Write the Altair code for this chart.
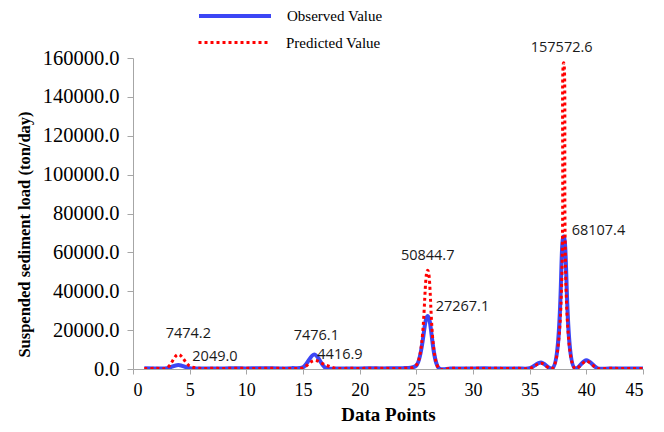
import altair as alt
import pandas as pd

x_points = list(range(1, 46))

observed = [
    350, 300, 400, 2049.0, 350, 300, 250, 300, 350, 300,
    400, 350, 300, 450, 900, 7476.1, 500, 300, 250, 300,
    350, 300, 400, 500, 1800, 27267.1, 400, 300, 250, 300,
    350, 300, 250, 300, 400, 3300, 350, 68107.4, 300, 4500,
    350, 300, 250, 300, 300,
]

predicted = [
    300, 350, 600, 7474.2, 1500, 300, 350, 300, 400, 350,
    300, 400, 350, 300, 600, 4416.9, 2000, 300, 350, 300,
    400, 350, 300, 400, 2000, 50844.7, 300, 350, 300, 400,
    300, 350, 300, 350, 300, 3000, 300, 157572.6, 300, 4000,
    300, 350, 300, 300, 300,
]

series_names = ["Observed Value", "Predicted Value"]

df_obs = pd.DataFrame({"x": x_points, "value": observed, "series": series_names[0]})
df_pred = pd.DataFrame({"x": x_points, "value": predicted, "series": series_names[1]})
df = pd.concat([df_obs, df_pred], ignore_index=True)

BLUE = "#3c46f5"
RED = "#ff0000"
SERIF = "Liberation Serif"

xscale = alt.Scale(domain=[0, 45], nice=False, zero=False)
yscale = alt.Scale(domain=[0, 160000], nice=False)

xaxis = alt.Axis(
    values=list(range(0, 50, 5)), title="Data Points", grid=False,
    labelFont=SERIF, labelFontSize=18, labelColor="black", labelPadding=7,
    labelOverlap=False,
    tickSize=5, tickColor="#a6a6a6", domainColor="#a6a6a6",
    titleFont=SERIF, titleFontSize=19, titleFontWeight="bold", titleColor="black",
    titlePadding=6,
)
yaxis = alt.Axis(
    values=list(range(0, 160001, 20000)), format=".1f",
    title="Suspended sediment load (ton/day)", grid=False,
    labelFont=SERIF, labelFontSize=20.5, labelColor="black", labelPadding=8,
    labelOverlap=False,
    tickSize=6, tickColor="#a6a6a6", domainColor="#a6a6a6",
    titleFont=SERIF, titleFontSize=16.5, titleFontWeight="bold", titleColor="black",
    titleAngle=-90, titleX=-101, titleY=176, titleAlign="center",
)

X = alt.X("x:Q", scale=xscale, axis=xaxis)
Y = alt.Y("value:Q", scale=yscale, axis=yaxis)

obs_line = alt.Chart(df_obs).mark_line(interpolate="catmull-rom", clip=True, strokeWidth=4).encode(
    x=X, y=Y,
    color=alt.Color("series:N", scale=alt.Scale(domain=[series_names[0]], range=[BLUE]),
                    legend=alt.Legend(
                        title=None, orient="none", legendX=64, legendY=-80, padding=0,
                        symbolType="stroke", symbolSize=5184, symbolStrokeWidth=4,
                        labelFont=SERIF, labelFontSize=15, labelColor="black", labelOffset=14,
                    )),
    order=alt.Order("x:Q"),
)

pred_line = alt.Chart(df_pred).mark_line(interpolate="catmull-rom", clip=True, strokeWidth=3,
                                         strokeDash=[3, 3]).encode(
    x=X, y=Y,
    stroke=alt.Stroke("series:N", scale=alt.Scale(domain=[series_names[1]], range=[RED]),
                      legend=alt.Legend(
                          title=None, orient="none", legendX=64, legendY=-53, padding=0,
                          symbolType="stroke", symbolSize=5184, symbolStrokeWidth=3,
                          symbolDash=[3, 3],
                          labelFont=SERIF, labelFontSize=15, labelColor="black", labelOffset=14,
                      )),
    order=alt.Order("x:Q"),
)

label_spec = [
    (4, series_names[1], "center", 10, -20),
    (4, series_names[0], "left", 14, -8),
    (16, series_names[0], "center", 2, -18),
    (16, series_names[1], "left", 3, -5),
    (26, series_names[1], "center", 0, -14),
    (26, series_names[0], "left", 8, -9),
    (38, series_names[1], "center", -2, -15),
    (38, series_names[0], "left", 8, -6),
]

label_layers = []
for px, s, al, ddx, ddy in label_spec:
    label_layers.append(
        alt.Chart(df)
        .transform_filter((alt.datum.x == px) & (alt.datum.series == s))
        .mark_text(align=al, baseline="middle", dx=ddx, dy=ddy,
                   font="Open Sans", fontSize=14.5, color="#1a1a1a")
        .encode(x=X, y=Y, text=alt.Text("value:Q", format=".1f"))
    )

chart = alt.layer(obs_line, pred_line, *label_layers).resolve_scale(
    color="independent", stroke="independent"
).properties(
    width=510, height=311,
    background="white",
    autosize=alt.AutoSizeParams(type="none"),
    padding={"left": 125, "top": 50, "right": 13, "bottom": 56},
).configure_view(stroke=None).configure_axis(labelOverlap=False)

chart.save("out.html", embed_options={"renderer": "svg", "actions": False})
